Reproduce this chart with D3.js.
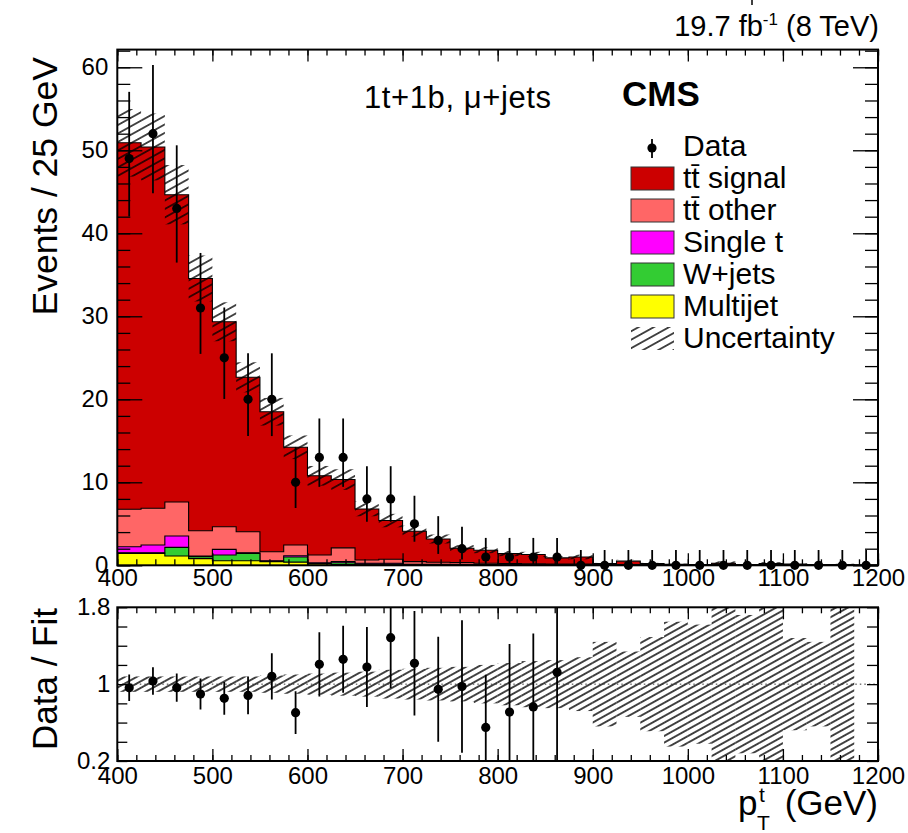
<!DOCTYPE html>
<html><head><meta charset="utf-8">
<script src="https://cdn.jsdelivr.net/npm/d3@7"></script>
<style>
body{margin:0;background:#fff}
svg{display:block}
text{font-family:"Liberation Sans",Arial,Helvetica,sans-serif;fill:#000}
</style>
</head><body>
<svg id="c" width="908" height="833"></svg>
<script>
// ---------------- data ----------------
const binEdges = [400,425,450,475,500,525,550,575,600,625,650,675,700,725,750,775,800,825,850,875,900,925,950,975,1000,1025,1050,1075,1100,1125,1150,1175,1200];
const multijet = [1.44,1.44,1.12,0.80,0.55,0.55,0.44,0.38,0.15,0.10,0.05,0.05,0.03,0.03,0.02,0.02,0.01,0.01,0.01,0.01,0,0,0,0,0,0,0,0,0,0,0,0];
const wjets    = [0.06,0.06,1.04,0.24,0.69,0.89,0.05,0.62,0.05,0.20,0.10,0.10,0.05,0.05,0.05,0.03,0.03,0.03,0.02,0.02,0.01,0.01,0.01,0.01,0,0.10,0.01,0.01,0,0,0,0];
const singleT  = [0.74,0.95,1.37,0.06,0.68,0.06,0.05,0.15,0.10,0.15,0.10,0.10,0.05,0.05,0.03,0.03,0.02,0.02,0.02,0.02,0.01,0.01,0.01,0,0,0,0,0,0,0,0,0];
const ttOther  = [4.51,4.42,4.10,3.07,2.73,2.55,1.10,1.29,0.94,1.65,0.39,0.47,0.31,0.23,0.22,0.16,0.14,0.12,0.10,0.10,0.05,0.08,0.03,0.02,0.02,0.02,0.02,0.08,0.05,0.02,0.02,0];
const ttSignal = [44.15,43.53,37.02,30.39,24.69,18.60,16.86,11.78,9.54,8.23,6.15,4.67,3.67,2.81,1.73,1.58,1.21,1.13,0.74,0.85,0.13,0.40,0.15,0.09,0.08,0.13,0.07,0.11,0.10,0.08,0.08,0];
const dataCounts = [49,52,43,31,25,20,20,10,13,13,8,8,5,3,2,1,1,1,1,0,0,0,0,0,0,0,0,0,0,0,0,0];
const dataErrLo  = [6.97,7.19,6.53,5.53,4.96,4.43,4.43,3.10,3.55,3.55,2.76,2.76,2.16,1.63,1.29,0.83,0.83,0.83,0.83,0,0,0,0,0,0,0,0,0,0,0,0,0];
const dataErrHi  = [8.04,8.26,7.60,6.63,6.06,5.54,5.54,4.26,4.69,4.69,3.94,3.94,3.38,2.92,2.64,2.30,2.30,2.30,2.30,1.84,1.84,1.84,1.84,1.84,1.84,1.84,1.84,1.84,1.84,1.84,1.84,1.84];
const relUncert  = [0.08,0.08,0.08,0.08,0.08,0.08,0.09,0.10,0.11,0.12,0.13,0.15,0.16,0.17,0.18,0.20,0.22,0.24,0.25,0.28,0.44,0.34,0.49,0.65,0.62,0.90,0.72,0.90,0.48,0.44,0.90,0];
const xTicksMajor = [400,500,600,700,800,900,1000,1100,1200];
const yTicksMain = [0,10,20,30,40,50,60];
const yTicksRatio = [0.2,1,1.8];
const components = [
  {name:"tt\u0304 signal", values: ttSignal, color:"#cc0000"},
  {name:"tt\u0304 other",  values: ttOther,  color:"#ff6666"},
  {name:"Single t",        values: singleT,  color:"#ff00ff"},
  {name:"W+jets",          values: wjets,    color:"#33cc33"},
  {name:"Multijet",        values: multijet, color:"#ffff00"}
];

// ---------------- layout ----------------
const svg = d3.select("#c");
const xL = 117.3, xR = 878;
const mTop = 49.6, mBot = 565.3;
const rTop = 607.3, rBot = 761;
const x = d3.scaleLinear().domain([400,1200]).range([xL,xR]);
const y = d3.scaleLinear().domain([0,62.13]).range([mBot,mTop]);
const yr = d3.scaleLinear().domain([0.2,1.8]).range([rBot,rTop]);
const nb = dataCounts.length;

const defs = svg.append("defs");
function hatch(id, sp, sw){
  const p = defs.append("pattern").attr("id",id).attr("patternUnits","userSpaceOnUse")
    .attr("width",40).attr("height",sp).attr("patternTransform","rotate(-29)");
  p.append("line").attr("x1",0).attr("x2",40).attr("y1",sp/2).attr("y2",sp/2)
    .attr("stroke","#000").attr("stroke-width",sw);
}
hatch("hMain",7.4,1.5);
hatch("hRatio",5.8,1.4);
defs.append("clipPath").attr("id","clipM").append("rect").attr("x",xL).attr("y",mTop).attr("width",xR-xL).attr("height",mBot-mTop);
defs.append("clipPath").attr("id","clipR").append("rect").attr("x",xL).attr("y",rTop).attr("width",xR-xL).attr("height",rBot-rTop);

// ---------------- stacked histogram ----------------
const totals = d3.range(nb).map(i => components.reduce((s,c)=>s+c.values[i],0));
const gM = svg.append("g").attr("clip-path","url(#clipM)");
const bottomUp = components.slice().reverse();
const cum = [];
let run = new Array(nb).fill(0);
bottomUp.forEach(c => { run = run.map((v,i)=>v + c.values[i]); cum.push({c, top: run.slice()}); });
cum.slice().reverse().forEach(({c, top}) => {
  const pts = [];
  for (let i=0;i<nb;i++){ pts.push([binEdges[i], top[i]]); pts.push([binEdges[i+1], top[i]]); }
  const area = d3.area().x(d=>x(d[0])).y0(y(0)).y1(d=>y(d[1]));
  gM.append("path").attr("d", area(pts)).attr("fill", c.color).attr("stroke","none");
  const line = d3.line().x(d=>x(d[0])).y(d=>y(d[1]));
  const lp = [[binEdges[0],0], ...pts, [binEdges[nb],0]];
  gM.append("path").attr("d", line(lp)).attr("fill","none").attr("stroke","#000").attr("stroke-width",1.1);
});
gM.selectAll("rect.band").data(d3.range(nb).filter(i=>totals[i]>0 && relUncert[i]>0)).join("rect")
  .attr("x", i=>x(binEdges[i])).attr("width", i=>x(binEdges[i+1])-x(binEdges[i]))
  .attr("y", i=>y(totals[i]*(1+relUncert[i])))
  .attr("height", i=>y(totals[i]*(1-relUncert[i])) - y(totals[i]*(1+relUncert[i])))
  .attr("fill","url(#hMain)");

// data points (main)
const centers = d3.range(nb).map(i => (binEdges[i]+binEdges[i+1])/2);
const gD = svg.append("g");
gD.selectAll("line.err").data(d3.range(nb)).join("line")
  .attr("x1",i=>x(centers[i])).attr("x2",i=>x(centers[i]))
  .attr("y1",i=>y(dataCounts[i]-dataErrLo[i])).attr("y2",i=>y(Math.min(dataCounts[i]+dataErrHi[i],62.13)))
  .attr("stroke","#000").attr("stroke-width",1.8);
gD.selectAll("circle").data(d3.range(nb)).join("circle")
  .attr("cx",i=>x(centers[i])).attr("cy",i=>y(dataCounts[i])).attr("r",4.6).attr("fill","#000");

// ---------------- ratio ----------------
const gR = svg.append("g").attr("clip-path","url(#clipR)");
gR.selectAll("rect").data(d3.range(nb).filter(i=>totals[i]>0 && relUncert[i]>0)).join("rect")
  .attr("x", i=>x(binEdges[i])).attr("width", i=>x(binEdges[i+1])-x(binEdges[i]))
  .attr("y", i=>yr(1+relUncert[i])).attr("height", i=>yr(1-relUncert[i])-yr(1+relUncert[i]))
  .attr("fill","url(#hRatio)");
gR.append("line").attr("x1",xL).attr("x2",xR).attr("y1",yr(1)).attr("y2",yr(1))
  .attr("stroke","#333").attr("stroke-width",1).attr("stroke-dasharray","1.5,3");
const rIdx = d3.range(nb).filter(i=>dataCounts[i]>0 && totals[i]>0);
const ratio = i => dataCounts[i]/totals[i];
const rErr = i => Math.sqrt(dataCounts[i])/totals[i];
gR.selectAll("line.err").data(rIdx).join("line")
  .attr("x1",i=>x(centers[i])).attr("x2",i=>x(centers[i]))
  .attr("y1",i=>yr(ratio(i)-rErr(i))).attr("y2",i=>yr(ratio(i)+rErr(i)))
  .attr("stroke","#000").attr("stroke-width",1.8);
gR.selectAll("circle").data(rIdx).join("circle")
  .attr("cx",i=>x(centers[i])).attr("cy",i=>yr(ratio(i))).attr("r",4.6).attr("fill","#000");

// ---------------- axes ----------------
function clean(g){ g.select(".domain").remove(); g.selectAll("line").attr("stroke","#000").attr("stroke-width",1.3); g.selectAll("text").attr("font-size",24).attr("fill","#000").attr("font-family","Liberation Sans, Arial, sans-serif"); }
const xMinor = d3.range(400,1201,20);
const yMinorMain = d3.range(0,62.2,2);
const yMinorRatio = [0.2,0.4,0.6,0.8,1.0,1.2,1.4,1.6,1.8];
svg.append("g").attr("transform",`translate(0,${mBot})`).call(d3.axisBottom(x).tickValues(xTicksMajor).tickSize(-12).tickPadding(4).tickFormat(d3.format("d"))).call(clean);
svg.append("g").attr("transform",`translate(0,${mBot})`).call(d3.axisBottom(x).tickValues(xMinor).tickSize(-6).tickFormat("")).call(clean);
svg.append("g").attr("transform",`translate(0,${mTop})`).call(d3.axisTop(x).tickValues(xTicksMajor).tickSize(-12).tickFormat("")).call(clean);
svg.append("g").attr("transform",`translate(0,${mTop})`).call(d3.axisTop(x).tickValues(xMinor).tickSize(-6).tickFormat("")).call(clean);
svg.append("g").attr("transform",`translate(${xL},0)`).call(d3.axisLeft(y).tickValues(yTicksMain).tickSize(-25).tickPadding(9).tickFormat(d3.format("d"))).call(clean);
svg.append("g").attr("transform",`translate(${xL},0)`).call(d3.axisLeft(y).tickValues(yMinorMain).tickSize(-13).tickFormat("")).call(clean);
svg.append("g").attr("transform",`translate(${xR},0)`).call(d3.axisRight(y).tickValues(yTicksMain).tickSize(-25).tickFormat("")).call(clean);
svg.append("g").attr("transform",`translate(${xR},0)`).call(d3.axisRight(y).tickValues(yMinorMain).tickSize(-13).tickFormat("")).call(clean);
svg.append("g").attr("transform",`translate(0,${rBot})`).call(d3.axisBottom(x).tickValues(xTicksMajor).tickSize(-12).tickPadding(6).tickFormat(d3.format("d"))).call(clean);
svg.append("g").attr("transform",`translate(0,${rBot})`).call(d3.axisBottom(x).tickValues(xMinor).tickSize(-6).tickFormat("")).call(clean);
svg.append("g").attr("transform",`translate(0,${rTop})`).call(d3.axisTop(x).tickValues(xTicksMajor).tickSize(-12).tickFormat("")).call(clean);
svg.append("g").attr("transform",`translate(0,${rTop})`).call(d3.axisTop(x).tickValues(xMinor).tickSize(-6).tickFormat("")).call(clean);
svg.append("g").attr("transform",`translate(${xL},0)`).call(d3.axisLeft(yr).tickValues(yTicksRatio).tickSize(0).tickPadding(7).tickFormat(d=>d3.format("~g")(d))).call(clean);
svg.append("g").attr("transform",`translate(${xL},0)`).call(d3.axisLeft(yr).tickValues(yMinorRatio).tickSize(-10).tickFormat("")).call(clean);
svg.append("g").attr("transform",`translate(${xR},0)`).call(d3.axisRight(yr).tickValues(yMinorRatio).tickSize(-11).tickFormat("")).call(clean);

svg.append("rect").attr("x",xL).attr("y",mTop).attr("width",xR-xL).attr("height",mBot-mTop).attr("fill","none").attr("stroke","#000").attr("stroke-width",2);
svg.append("rect").attr("x",xL).attr("y",rTop).attr("width",xR-xL).attr("height",rBot-rTop).attr("fill","none").attr("stroke","#000").attr("stroke-width",2);

// ---------------- texts ----------------
const lumi = svg.append("text").attr("x",879).attr("y",36).attr("text-anchor","end").attr("font-size",29);
lumi.append("tspan").text("19.7 fb");
lumi.append("tspan").attr("dy",-11).attr("font-size",17).text("-1");
lumi.append("tspan").attr("dy",11).text(" (8 TeV)");
svg.append("line").attr("x1",752).attr("x2",752).attr("y1",0).attr("y2",5).attr("stroke","#000").attr("stroke-width",1.5);

svg.append("text").attr("x",364).attr("y",108).attr("font-size",31).attr("letter-spacing",0.6).text("1t+1b, \u03bc+jets");
svg.append("text").attr("x",622).attr("y",106).attr("font-size",35).attr("font-weight","bold").text("CMS");

const lgX = 630, lgText = 683, rowY = [146,178,210,242,274,306,338];
svg.append("line").attr("x1",652).attr("x2",652).attr("y1",139).attr("y2",158).attr("stroke","#000").attr("stroke-width",1.8);
svg.append("circle").attr("cx",652).attr("cy",148).attr("r",4.6).attr("fill","#000");
svg.append("text").attr("x",lgText).attr("y",rowY[0]+10).attr("font-size",30).text("Data");
components.forEach((c,k)=>{
  const yc = rowY[k+1];
  svg.append("rect").attr("x",lgX+1).attr("y",yc-11).attr("width",43).attr("height",23).attr("fill",c.color).attr("stroke","#333").attr("stroke-width",1);
  svg.append("text").attr("x",lgText).attr("y",yc+10).attr("font-size",30).text(c.name);
});
svg.append("rect").attr("x",lgX+1).attr("y",rowY[6]-11).attr("width",43).attr("height",23).attr("fill","url(#hMain)");
svg.append("text").attr("x",lgText).attr("y",rowY[6]+10).attr("font-size",30).text("Uncertainty");

svg.append("text").attr("transform","translate(57,57) rotate(-90)").attr("text-anchor","end").attr("font-size",35.5).text("Events / 25 GeV");
svg.append("text").attr("transform","translate(57,608) rotate(-90)").attr("text-anchor","end").attr("font-size",35).text("Data / Fit");
svg.append("text").attr("x",738).attr("y",815).attr("font-size",35).text("p");
svg.append("text").attr("x",759).attr("y",802).attr("font-size",21).text("t");
svg.append("text").attr("x",757).attr("y",830).attr("font-size",21).text("T");
svg.append("text").attr("x",878).attr("y",815).attr("text-anchor","end").attr("font-size",35).text("(GeV)");
</script>
</body></html>
